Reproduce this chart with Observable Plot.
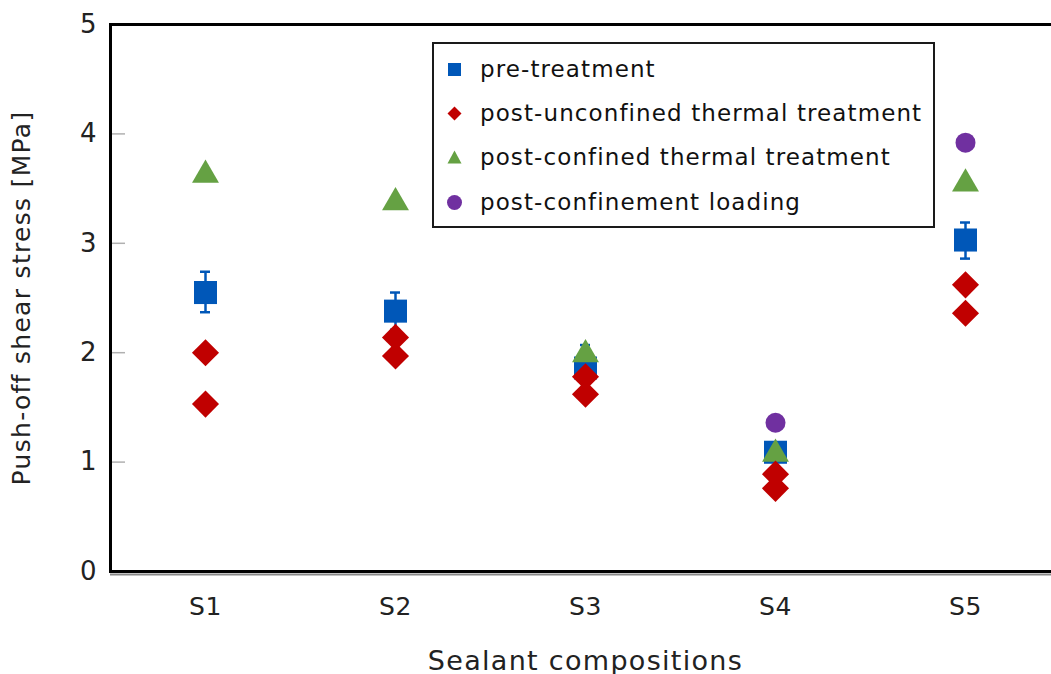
<!DOCTYPE html>
<html>
<head>
<meta charset="utf-8">
<script src="https://cdn.jsdelivr.net/npm/d3@7"></script>
<script src="https://cdn.jsdelivr.net/npm/@observablehq/plot@0.6"></script>
<style>
  html, body { margin: 0; padding: 0; background: #fff; overflow: hidden; }
  #wrap { position: relative; width: 1051px; height: 674px; font-family: "DejaVu Sans", sans-serif; }
  #legend { position: absolute; left: 432px; top: 42px; width: 499px; height: 182px; border: 2px solid #1a1a1a; background: #fff; }
  .row { position: absolute; left: 0; height: 30px; display: flex; align-items: center; }
  .row svg { position: absolute; left: 10px; }
  .row span { position: absolute; left: 46px; white-space: nowrap; font-size: 23px; letter-spacing: 1.1px; color: #111; }
  #chart g[aria-label="y-axis label"] text, #chart g[aria-label="x-axis label"] text { letter-spacing: 1.3px; }
  #chart g[aria-label="x-axis tick label"] text { letter-spacing: 0.5px; }
</style>
</head>
<body>
<div id="wrap"><div id="chart"></div><div id="legend"></div></div>
<script>
const categories = ["S1", "S2", "S3", "S4", "S5"];
const preTreatment = [2.55, 2.38, 1.86, 1.09, 3.03];
const preLow = [2.37, 2.21, 1.76, 1.04, 2.86];
const preHigh = [2.74, 2.55, 2.07, 1.14, 3.19];
const postUnconfinedA = [2.00, 2.14, 1.78, 0.89, 2.62];
const postUnconfinedB = [1.53, 1.97, 1.62, 0.76, 2.36];
const postConfined = [3.66, 3.41, 2.02, 1.11, 3.58];
const postConfinementLoading = [null, null, null, 1.36, 3.92];
const yTicks = [0, 1, 2, 3, 4, 5];
const seriesNames = ["pre-treatment", "post-unconfined thermal treatment", "post-confined thermal treatment", "post-confinement loading"];
const seriesColors = ["#0057B8", "#C00000", "#65A143", "#7030A0"];

const pre = categories.map((c, i) => ({cat: c, v: preTreatment[i], lo: preLow[i], hi: preHigh[i]}));
const unconf = categories.flatMap((c, i) => [{cat: c, v: postUnconfinedA[i]}, {cat: c, v: postUnconfinedB[i]}]);
const conf = categories.map((c, i) => ({cat: c, v: postConfined[i]}));
const load = categories.map((c, i) => ({cat: c, v: postConfinementLoading[i]})).filter(d => d.v != null);

const W = 1051, H = 674;
const chart = Plot.plot({
  width: W, height: H,
  marginLeft: 110, marginRight: -9, marginTop: 24, marginBottom: 103,
  style: {fontFamily: "DejaVu Sans, sans-serif", background: "transparent", color: "#222"},
  x: {domain: categories, padding: 0},
  y: {domain: [0, 5]},
  marks: [
    Plot.ruleY([1, 2, 3, 4], {insetRight: 935, stroke: "#b0b0b0", strokeWidth: 1.5}),
    Plot.axisY({ticks: yTicks, tickFormat: d3.format("d"), tickSize: 0, tickPadding: 14, fontSize: 26, label: "Push-off shear stress [MPa]", labelAnchor: "center", labelOffset: 98, labelArrow: "none"}),
    Plot.axisX({tickSize: 0, tickPadding: 26, fontSize: 25, label: "Sealant compositions", labelAnchor: "center", labelOffset: 98, labelArrow: "none"}),
    Plot.ruleY([0], {stroke: "#888", strokeWidth: 2, dy: 3}),
    Plot.frame({stroke: "#000", strokeWidth: 3}),
    Plot.ruleX(pre, {x: "cat", y1: "lo", y2: "hi", stroke: seriesColors[0], strokeWidth: 2.5}),
    Plot.tickY(pre, {x: "cat", y: "lo", stroke: seriesColors[0], strokeWidth: 2.5, insetLeft: 90, insetRight: 90}),
    Plot.tickY(pre, {x: "cat", y: "hi", stroke: seriesColors[0], strokeWidth: 2.5, insetLeft: 90, insetRight: 90}),
    Plot.dot(pre, {x: "cat", y: "v", symbol: "square", r: 13, fill: seriesColors[0]}),
    Plot.dot(conf, {x: "cat", y: "v", symbol: "triangle", r: 10, fill: seriesColors[2], dy: 4}),
    Plot.dot(unconf, {x: "cat", y: "v", symbol: "diamond2", r: 12.2, fill: seriesColors[1]}),
    Plot.dot(load, {x: "cat", y: "v", symbol: "circle", r: 10, fill: seriesColors[3]})
  ]
});
document.getElementById("chart").appendChild(chart);
// larger axis titles
chart.querySelectorAll('g[aria-label="y-axis label"] text').forEach(t => t.setAttribute("font-size", 25));
chart.querySelectorAll('g[aria-label="x-axis label"] text').forEach(t => t.setAttribute("font-size", 27));

// legend
const legend = document.getElementById("legend");
const legendRowsY = [25, 69, 113, 158];
const symbolPaths = [
  '<rect x="4" y="4" width="13" height="13" fill="C"/>',
  '<path d="M10.5 3.5 L17.5 10.5 L10.5 17.5 L3.5 10.5 Z" fill="C"/>',
  '<path d="M10.5 3.5 L17.5 16.5 L3.5 16.5 Z" fill="C"/>',
  '<circle cx="10.5" cy="10.5" r="7.5" fill="C"/>'
];
seriesNames.forEach((name, i) => {
  const row = document.createElement("div");
  row.className = "row";
  row.style.top = (legendRowsY[i] - 15) + "px";
  row.innerHTML = '<svg width="21" height="21" viewBox="0 0 21 21">' + symbolPaths[i].replace("C", seriesColors[i]) + '</svg><span>' + name + '</span>';
  legend.appendChild(row);
});
</script>
</body>
</html>
